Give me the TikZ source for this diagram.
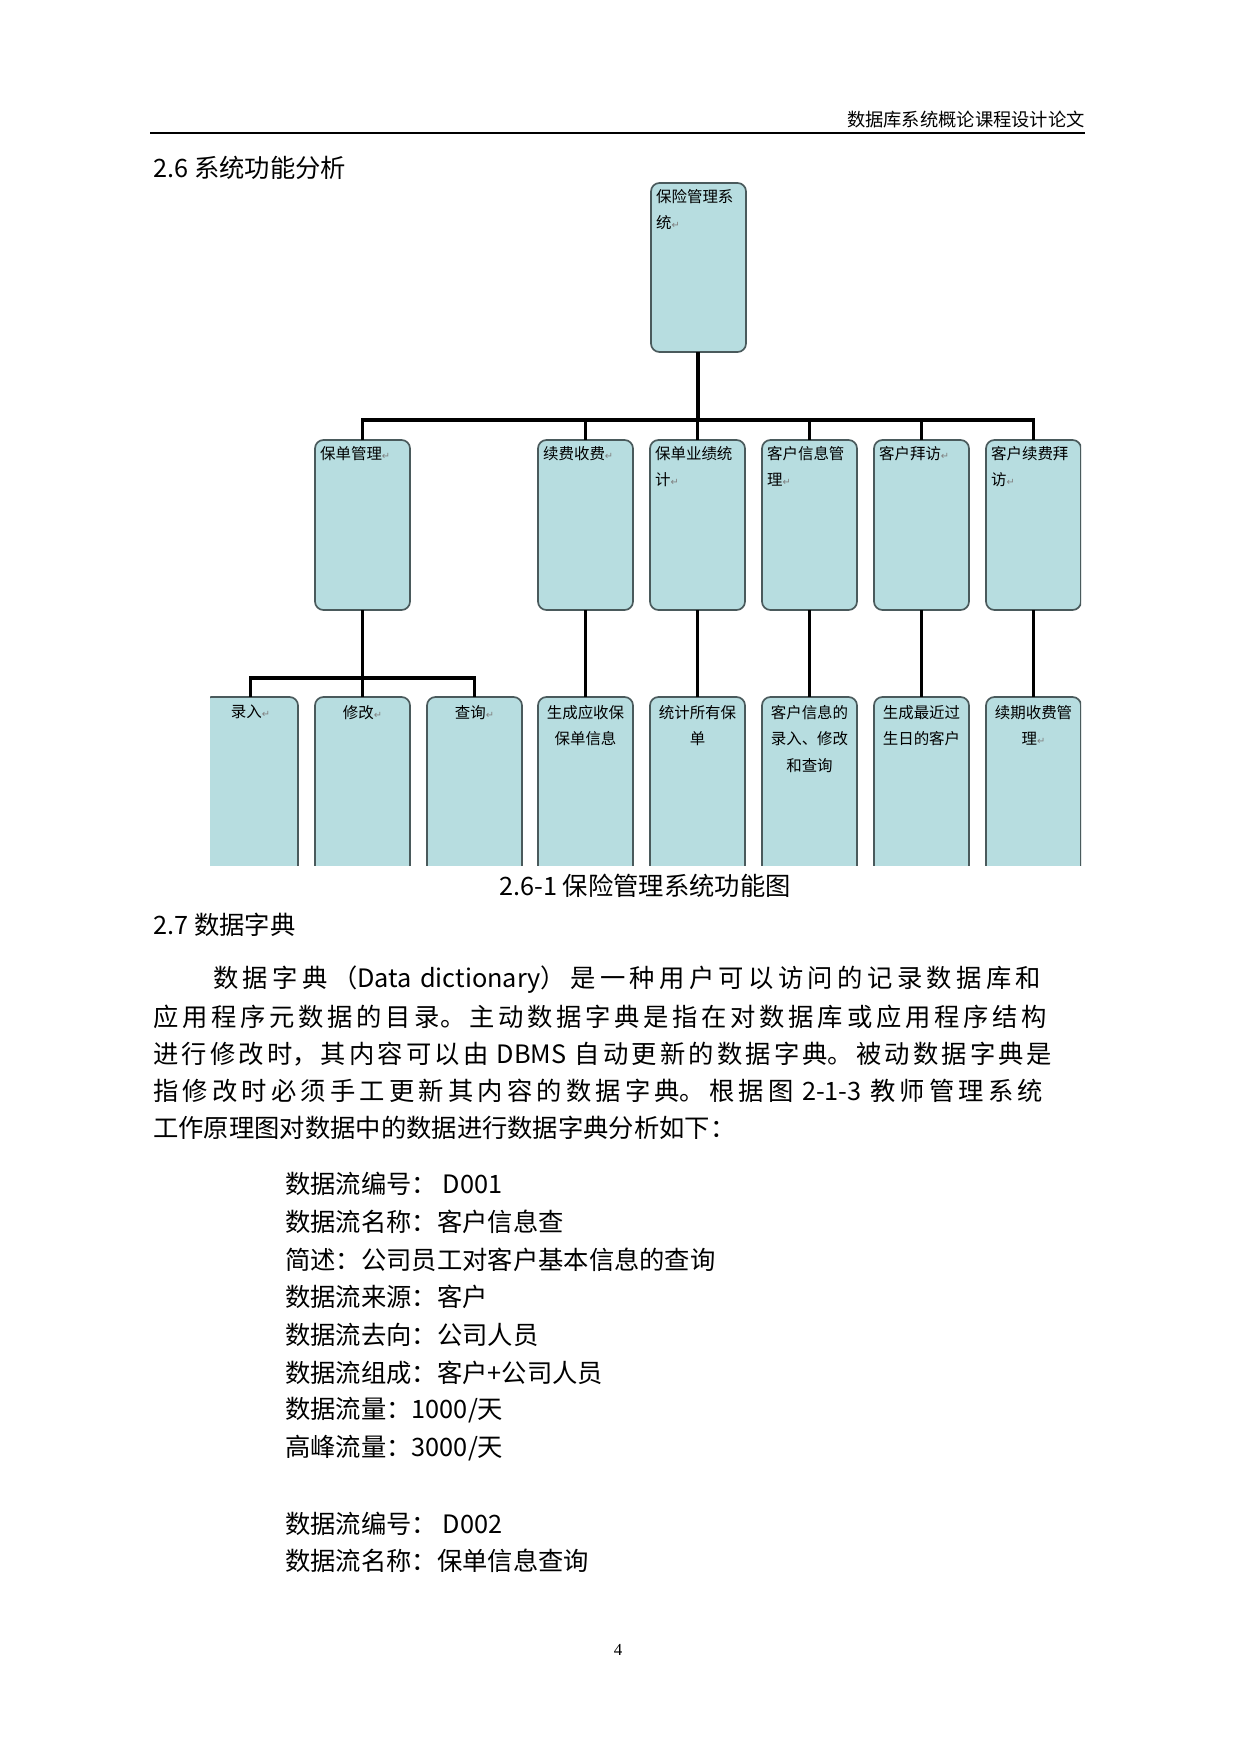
\documentclass[tikz,border=0pt]{standalone}
\usepackage{fontspec}
\setmainfont{Liberation Serif}
\newfontfamily\cjk{Noto Sans CJK SC}
\newfontfamily\symf{DejaVu Sans}
\usetikzlibrary{positioning}
\definecolor{boxfill}{HTML}{B7DDE0}
\definecolor{boxline}{HTML}{4A5A5C}
\newcommand{\ret}{{\symf\color{gray}\fontsize{7pt}{7pt}\selectfont ↵}}
\newcommand{\fullline}[1]{\XeTeXlinebreaklocale "zh"\XeTeXlinebreakskip=0pt plus 4pt\parfillskip=0pt\noindent #1\par}
\begin{document}
\begin{tikzpicture}[x=0.025cm,y=-0.025cm,
    fbox/.style={draw=boxline, line width=1.2pt, rounded corners=6pt, fill=boxfill},
    flabel/.style={anchor=north west, font=\cjk\fontsize{11pt}{19pt}\selectfont, align=left, inner sep=2pt},
    clabel/.style={anchor=north, font=\cjk\fontsize{11pt}{19pt}\selectfont, align=center, inner sep=2pt},
    link/.style={line width=2.6pt},
    body/.style={anchor=west, font=\cjk\fontsize{18pt}{18pt}\selectfont, inner sep=0pt},
    para/.style={body, text width=23.175cm}
]
    \useasboundingbox (0,0) rectangle (1240,1753);
    % header
    \node[anchor=south east, font=\cjk\fontsize{13pt}{13pt}\selectfont, inner sep=0pt] (hdr) at (1085,128) {数据库系统概论课程设计论文};
    \draw[line width=1pt] (150,133) -- (1085,133);
    \node[body] (sec26) at (153,168) {2.6 系统功能分析};

    % chart
    \begin{scope}
    \clip (210,180) rectangle (1081,865);
    \draw[fbox] (651,183) rectangle (746,352);
    \coordinate (root) at (698,352);
    \node[flabel] (rootlbl) at (653,186) {保险管理系\\统\ret};
    \foreach \n/\x/\t in {a/315/保单管理\ret, b/538/续费收费\ret, c/650/{保单业绩统\\计\ret},
        d/762/{客户信息管\\理\ret}, e/874/客户拜访\ret, f/986/{客户续费拜\\访\ret}} {
        \draw[fbox] (\x,440) rectangle ++(95,170);
        \coordinate (\n top) at (\x+47.5,440);
        \coordinate (\n bot) at (\x+47.5,610);
        \node[flabel] (\n lbl) at (\x+2,443) {\t};
    }
    \foreach \n/\x/\t in {a1/203/录入\ret, a2/315/修改\ret, a3/427/查询\ret, b1/538/{生成应收保\\保单信息},
        c1/650/{统计所有保\\单}, d1/762/{客户信息的\\录入、修改\\和查询}, e1/874/{生成最近过\\生日的客户},
        f1/986/{续期收费管\\理\ret}} {
        \draw[fbox] (\x,697) rectangle ++(95,200);
        \coordinate (\n top) at (\x+47.5,697);
        \node[clabel] (\n lbl) at (\x+47.5,702) {\t};
    }
    \end{scope}
    % connectors
    \draw[link] (root) -- ++(0,68) coordinate (hub);
    \draw[link] (atop) |- (hub) -| (ftop);
    \foreach \n in {b,c,d,e} \draw[link] (\n top) -- (\n top |- hub);
    \draw[link] (abot) -- ++(0,68) coordinate (hubb);
    \draw[link] (a1top) |- (hubb) -| (a3top);
    \draw[link] (a2top) -- (hubb);
    \foreach \n in {b,c,d,e,f} \draw[link] (\n bot) -- (\n 1top);

    % text
    \node[anchor=center, font=\cjk\fontsize{18pt}{18pt}\selectfont, inner sep=0pt] (cap) at (645,886) {2.6-1 保险管理系统功能图};
    \node[body] (sec27) at (153,925) {2.7 数据字典};
    \node[para, text width=21.675cm] (p1) at (213,980) {\fullline{数据字典（Data dictionary）是一种用户可以访问的记录数据库和}};
    \node[para] (p2) at (153,1017) {\fullline{应用程序元数据的目录。主动数据字典是指在对数据库或应用程序结构}};
    \node[para] (p3) at (153,1054) {\fullline{进行修改时，其内容可以由 DBMS 自动更新的数据字典。被动数据字典是}};
    \node[para] (p4) at (153,1091) {\fullline{指修改时必须手工更新其内容的数据字典。根据图 2-1-3 教师管理系统}};
    \node[body] (p5) at (153,1128) {工作原理图对数据中的数据进行数据字典分析如下：};
    \foreach \t [count=\i] in {数据流编号：\ D001, 数据流名称：客户信息查, 简述：公司员工对客户基本信息的查询,
        数据流来源：客户, 数据流去向：公司人员, 数据流组成：客户+公司人员, 数据流量：1000/天, 高峰流量：3000/天}
        \node[body] (l\i) at (285,1184+37.7*\i-37.7) {\t};
    \node[body] (m1) at (285,1524) {数据流编号：\ D002};
    \node[body] (m2) at (285,1561) {数据流名称：保单信息查询};
    \node[font=\fontsize{12pt}{12pt}\selectfont] (pg) at (618,1650) {4};
\end{tikzpicture}
\end{document}
